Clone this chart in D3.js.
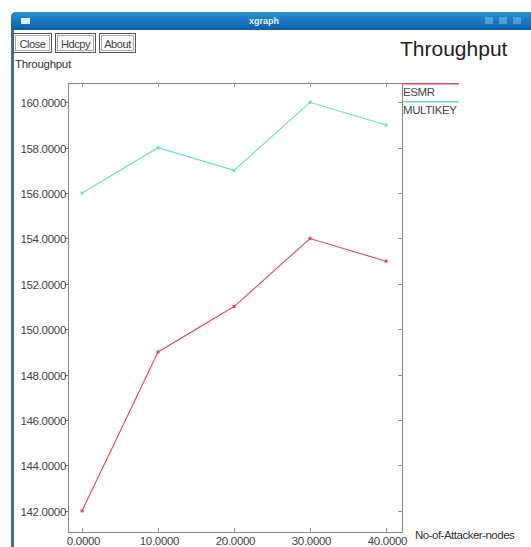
<!DOCTYPE html>
<html>
<head>
<meta charset="utf-8">
<script src="https://cdn.jsdelivr.net/npm/d3@7"></script>
<style>
  html, body { margin: 0; padding: 0; background: #fff; }
  svg { display: block; }
  text { font-family: "Liberation Sans", Arial, sans-serif; }
</style>
</head>
<body>
<svg id="chart" width="531" height="547"></svg>
<script>
// Throughput vs. number of attacker nodes
const attackerNodes = [0, 10, 20, 30, 40];
const esmr = [142, 149, 151, 154, 153];
const multikey = [156, 158, 157, 160, 159];
const seriesNames = ["ESMR", "MULTIKEY"];
const seriesColors = ["#e4465e", "#5fe3c4"];
const xTicks = [0, 10, 20, 30, 40];
const yTicks = [142, 144, 146, 148, 150, 152, 154, 156, 158, 160];
const buttonLabels = ["Close", "Hdcpy", "About"];

(function () {
  const svg = d3.select("#chart");
  const W = 531, H = 547;
  const small = 11.5;

  // window frame
  svg.append("rect").attr("x", 0).attr("y", 0).attr("width", W).attr("height", H).attr("fill", "#fff");
  const bar = svg.append("g");
  const grad = svg.append("defs").append("linearGradient").attr("id", "tb").attr("x1", 0).attr("y1", 0).attr("x2", 0).attr("y2", 1);
  grad.append("stop").attr("offset", "0%").attr("stop-color", "#2a8fd6");
  grad.append("stop").attr("offset", "100%").attr("stop-color", "#0b5fa8");
  bar.append("path")
    .attr("d", "M11,30 L11,17 Q11,12 16,12 L531,12 L531,30 Z")
    .attr("fill", "url(#tb)");
  bar.append("rect").attr("x", 21).attr("y", 18).attr("width", 9).attr("height", 6).attr("fill", "#dfefff");
  bar.append("text").attr("x", 264).attr("y", 24).attr("text-anchor", "middle")
    .attr("fill", "#e8f4ff").attr("font-size", 9).attr("font-weight", "bold").text("xgraph");
  [489, 503, 517].forEach(cx => {
    bar.append("rect").attr("x", cx - 4).attr("y", 17).attr("width", 8).attr("height", 7)
      .attr("fill", "#5aa8e0").attr("opacity", 0.8);
  });
  svg.append("rect").attr("x", 11).attr("y", 30).attr("width", 3).attr("height", H - 30).attr("fill", "#3f6f9a");

  // buttons
  const btnX = [13, 55, 99], btnW = [38, 40, 36];
  buttonLabels.forEach((b, i) => {
    svg.append("rect").attr("x", btnX[i] + 0.5).attr("y", 33.5).attr("width", btnW[i]).attr("height", 19)
      .attr("fill", "#fafafa").attr("stroke", "#555").attr("stroke-width", 1);
    svg.append("rect").attr("x", btnX[i] + 2.5).attr("y", 35.5).attr("width", btnW[i] - 4).attr("height", 15)
      .attr("fill", "none").attr("stroke", "#aaa").attr("stroke-width", 1);
    svg.append("text").attr("x", btnX[i] + btnW[i] / 2 + 0.5).attr("y", 47.5).attr("text-anchor", "middle")
      .attr("font-size", 11).attr("fill", "#444").attr("letter-spacing", -0.4).text(b);
  });

  svg.append("text").attr("x", 400).attr("y", 56).attr("font-size", 21).attr("fill", "#222").text("Throughput");
  svg.append("text").attr("x", 15).attr("y", 68).attr("font-size", small).attr("fill", "#333")
    .attr("letter-spacing", -0.3).text("Throughput");

  // plot area
  const pLeft = 68, pRight = 402, pTop = 83, pBottom = 532;
  const x = d3.scaleLinear().domain([-1.85, 42.1]).range([pLeft, pRight]);
  const y = d3.scaleLinear().domain([141.07, 160.85]).range([pBottom, pTop]);
  const fmt = d3.format(".4f");

  svg.append("rect").attr("x", pLeft + 0.5).attr("y", pTop + 0.5)
    .attr("width", pRight - pLeft).attr("height", pBottom - pTop)
    .attr("fill", "none").attr("stroke", "#888").attr("stroke-width", 1);

  const tickColor = "#999";
  // y ticks
  yTicks.forEach(v => {
    const yy = Math.round(y(v)) + 0.5;
    svg.append("line").attr("x1", pLeft - 3).attr("x2", pLeft + 1).attr("y1", yy).attr("y2", yy).attr("stroke", "#777");
    svg.append("line").attr("x1", pRight - 4).attr("x2", pRight).attr("y1", yy).attr("y2", yy).attr("stroke", tickColor);
    svg.append("text").attr("x", pLeft - 2).attr("y", yy + 4).attr("text-anchor", "end")
      .attr("font-size", small).attr("fill", "#444").attr("letter-spacing", -0.3).text(fmt(v));
  });
  // x ticks
  xTicks.forEach(v => {
    const xx = Math.round(x(v)) + 0.5;
    svg.append("line").attr("x1", xx).attr("x2", xx).attr("y1", pTop).attr("y2", pTop + 4).attr("stroke", tickColor);
    svg.append("line").attr("x1", xx).attr("x2", xx).attr("y1", pBottom - 4).attr("y2", pBottom).attr("stroke", tickColor);
    svg.append("text").attr("x", xx + 1).attr("y", 545).attr("text-anchor", "middle")
      .attr("font-size", small).attr("fill", "#444").attr("letter-spacing", -0.3).text(fmt(v));
  });
  svg.append("text").attr("x", 415).attr("y", 539).attr("font-size", small).attr("fill", "#333")
    .attr("letter-spacing", -0.5).text("No-of-Attacker-nodes");

  // series
  const line = d3.line().x(d => x(d[0])).y(d => y(d[1]));
  [esmr, multikey].forEach((vals, i) => {
    const pts = attackerNodes.map((n, j) => [n, vals[j]]);
    svg.append("path").datum(pts).attr("d", line).attr("fill", "none")
      .attr("stroke", seriesColors[i]).attr("stroke-width", 1.1);
    svg.selectAll(null).data(pts).enter().append("rect")
      .attr("x", d => x(d[0]) - 1.5).attr("y", d => y(d[1]) - 1.5)
      .attr("width", 3).attr("height", 3).attr("fill", seriesColors[i]);
  });

  // legend
  const legY = [83, 101], legText = [96, 114];
  seriesNames.forEach((s, i) => {
    svg.append("rect").attr("x", pRight + 1).attr("y", legY[i]).attr("width", 56).attr("height", 1.5)
      .attr("fill", seriesColors[i]);
    svg.append("text").attr("x", 403).attr("y", legText[i]).attr("font-size", small).attr("fill", "#444")
      .attr("letter-spacing", -0.4).text(s);
  });
})();
</script>
</body>
</html>
